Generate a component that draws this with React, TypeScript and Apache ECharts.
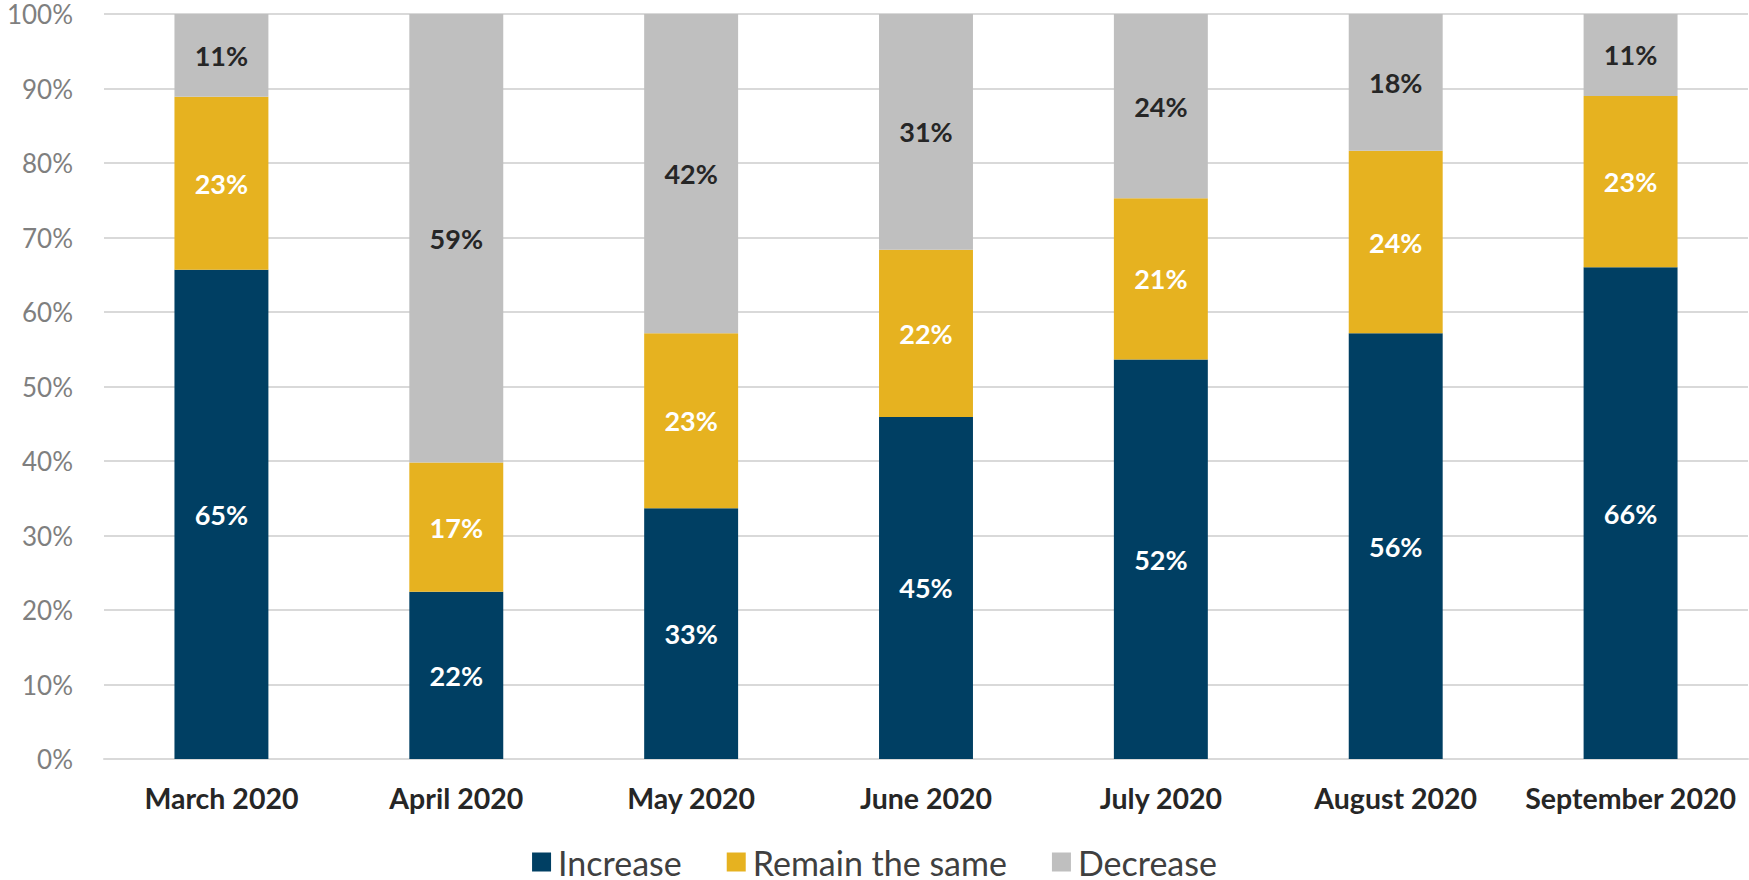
import React, { useEffect, useRef } from "react";
import * as echarts from "echarts";

const categories = [
  "March 2020",
  "April 2020",
  "May 2020",
  "June 2020",
  "July 2020",
  "August 2020",
  "September 2020",
];
const increase = [65, 22, 33, 45, 52, 56, 66];
const remainSame = [23, 17, 23, 22, 21, 24, 23];
const decrease = [11, 59, 42, 31, 24, 18, 11];
const yTicks = [0, 10, 20, 30, 40, 50, 60, 70, 80, 90, 100];

const FONT = "Lato, 'Open Sans', 'Noto Sans', sans-serif";

export default function App() {
  const ref = useRef<HTMLDivElement>(null);
  useEffect(() => {
    if (!ref.current) return;
    const chart = echarts.init(ref.current, undefined, { renderer: "svg" });
    const totals = categories.map((_, i) => increase[i] + remainSame[i] + decrease[i]);
    const norm = (arr: number[]) => arr.map((v, i) => ({ value: (v / totals[i]) * 100, raw: v }));
    const mk = (name: string, arr: number[], color: string, labelColor: string) => ({
      name,
      type: "bar",
      stack: "total",
      barWidth: "40%",
      data: norm(arr),
      itemStyle: { color },
      label: {
        show: true,
        position: "inside",
        color: labelColor,
        fontFamily: FONT,
        fontWeight: "bold",
        fontSize: 27,
        formatter: (p: any) => `${p.data.raw}%`,
      },
    });
    chart.setOption({
      animation: false,
      textStyle: { fontFamily: FONT },
      grid: { left: 104, right: 1, top: 14, bottom: 121, containLabel: false },
      legend: {
        top: 838,
        left: "center",
        icon: "rect",
        itemWidth: 19,
        itemHeight: 19,
        itemGap: 45,
        textStyle: { fontSize: 34, lineHeight: 38, color: "#404040", fontFamily: FONT, padding: [0, 0, 0, 2] },
        data: ["Increase", "Remain the same", "Decrease"],
      },
      xAxis: {
        type: "category",
        data: categories,
        axisLine: { lineStyle: { color: "#d9d9d9", width: 2 } },
        axisTick: { show: false },
        axisLabel: {
          margin: 24,
          fontSize: 28.5,
          fontWeight: "bold",
          color: "#262626",
          fontFamily: FONT,
          interval: 0,
        },
      },
      yAxis: {
        type: "value",
        min: yTicks[0],
        max: yTicks[yTicks.length - 1],
        interval: 10,
        axisLine: { show: false },
        axisTick: { show: false },
        splitLine: { lineStyle: { color: "#d9d9d9", width: 2 } },
        axisLabel: {
          margin: 31,
          fontSize: 26,
          color: "#7f7f7f",
          fontFamily: FONT,
          formatter: "{value}%",
        },
      },
      series: [
        mk("Increase", increase, "#003f63", "#ffffff"),
        mk("Remain the same", remainSame, "#e6b220", "#ffffff"),
        mk("Decrease", decrease, "#bfbfbf", "#262626"),
      ],
    });
    return () => chart.dispose();
  }, []);
  return (
    <div
      ref={ref}
      style={{ position: "fixed", left: 0, top: 0, width: 1749, height: 880, background: "#fff" }}
    />
  );
}
